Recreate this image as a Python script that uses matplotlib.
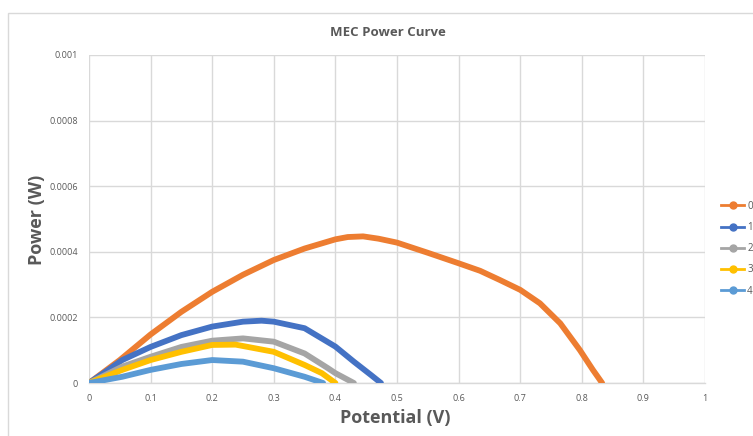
import matplotlib
matplotlib.use("Agg")
import matplotlib.pyplot as plt
from matplotlib.lines import Line2D
from matplotlib.patches import Rectangle

plt.rcParams["font.family"] = ["Open Sans", "DejaVu Sans"]

# Power curve data: potential (V) vs power (W) for each run
v0 = [0, 0.025, 0.05, 0.1, 0.15, 0.2, 0.25, 0.3, 0.35, 0.4, 0.42, 0.445, 0.47,
      0.5, 0.55, 0.6, 0.635, 0.667, 0.7, 0.732, 0.765, 0.797, 0.818, 0.833]
p0 = [0, 0.000035, 0.00007, 0.000148, 0.000217, 0.000278, 0.00033, 0.000375,
      0.00041, 0.000438, 0.000445, 0.000447, 0.00044, 0.000428, 0.000397,
      0.000365, 0.000342, 0.000314, 0.000284, 0.000243, 0.000182, 0.0001,
      0.00004, 0]

v1 = [0, 0.027, 0.054, 0.1, 0.15, 0.2, 0.25, 0.28, 0.3, 0.35, 0.4, 0.43,
      0.458, 0.474]
p1 = [0, 0.0000345, 0.00007, 0.00011, 0.000146, 0.000172, 0.000187, 0.00019,
      0.000187, 0.000167, 0.000111, 0.000065, 0.000024, 0]

v2 = [0, 0.054, 0.1, 0.15, 0.2, 0.25, 0.3, 0.35, 0.388, 0.4, 0.43]
p2 = [0, 0.00005, 0.00008, 0.00011, 0.000129, 0.000136, 0.000126, 0.00009,
      0.000045, 0.00003, 0]

v3 = [0, 0.054, 0.1, 0.15, 0.2, 0.238, 0.3, 0.35, 0.378, 0.4]
p3 = [0, 0.00004, 0.00007, 0.000095, 0.000116, 0.000117, 0.000095, 0.000055,
      0.00003, 0]

v4 = [0, 0.054, 0.1, 0.15, 0.2, 0.25, 0.3, 0.35, 0.38]
p4 = [0, 0.000019, 0.00004, 0.000058, 0.00007, 0.000065, 0.000045, 0.000019, 0]

series_names = ["0", "1", "2", "3", "4"]
series_colors = ["#ED7D31", "#4472C4", "#A5A5A5", "#FFC000", "#5B9BD5"]

x_ticks = [0, 0.1, 0.2, 0.3, 0.4, 0.5, 0.6, 0.7, 0.8, 0.9, 1]
x_tick_labels = ["0", "0.1", "0.2", "0.3", "0.4", "0.5", "0.6", "0.7", "0.8", "0.9", "1"]
y_ticks = [0, 0.0002, 0.0004, 0.0006, 0.0008, 0.001]
y_tick_labels = ["0", "0.0002", "0.0004", "0.0006", "0.0008", "0.001"]

text_color = "#595959"
grid_color = "#D9D9D9"

fig = plt.figure(figsize=(7.53, 4.36), dpi=100)

# chart area border (extends past the right and bottom edges)
fig.patches.append(Rectangle((8 / 753, -0.1), 1.2, 1 - 13 / 436 + 0.1,
                             transform=fig.transFigure, fill=False,
                             edgecolor=grid_color, linewidth=1.0))

ax = fig.add_axes([89 / 753, 1 - 383 / 436, 616 / 753, 328 / 436])

all_v = [v0, v1, v2, v3, v4]
all_p = [p0, p1, p2, p3, p4]
for v, p, c, name in zip(all_v, all_p, series_colors, series_names):
    ax.plot(v, p, color=c, linewidth=4.2, solid_capstyle="round",
            solid_joinstyle="round", label=name, zorder=3)

ax.set_xlim(0, 1)
ax.set_ylim(0, 0.001)
ax.set_xticks(x_ticks)
ax.set_xticklabels(x_tick_labels)
ax.set_yticks(y_ticks)
ax.set_yticklabels(y_tick_labels)
ax.tick_params(length=0, labelsize=6.5, colors=text_color, pad=8)
ax.grid(True, color=grid_color, linewidth=1.0, zorder=0)
ax.set_axisbelow(True)
for side in ["top", "right", "left"]:
    ax.spines[side].set_visible(False)
ax.spines["bottom"].set_color(grid_color)
ax.spines["bottom"].set_linewidth(1.0)

fig.text(388 / 753, 1 - 32 / 436, "MEC Power Curve", ha="center", va="center",
         fontsize=9.5, fontweight="bold", color=text_color)
fig.text(395 / 753, 1 - 418 / 436, "Potential (V)", ha="center", va="center",
         fontsize=13, fontweight="bold", color=text_color)
fig.text(37 / 753, 1 - 220 / 436, "Power (W)", ha="center", va="center",
         rotation=90, fontsize=13, fontweight="bold", color=text_color)

handles = [Line2D([0], [0], color=c, linewidth=2, marker="o", markersize=5)
           for c in series_colors]
fig.legend(handles, series_names, loc="upper left",
           bbox_to_anchor=(716 / 753, 1 - 196 / 436), frameon=False,
           fontsize=7, labelcolor=text_color, handlelength=2.4,
           handletextpad=0.3, labelspacing=1.05, borderpad=0)

fig.savefig("out.png", dpi=100)
